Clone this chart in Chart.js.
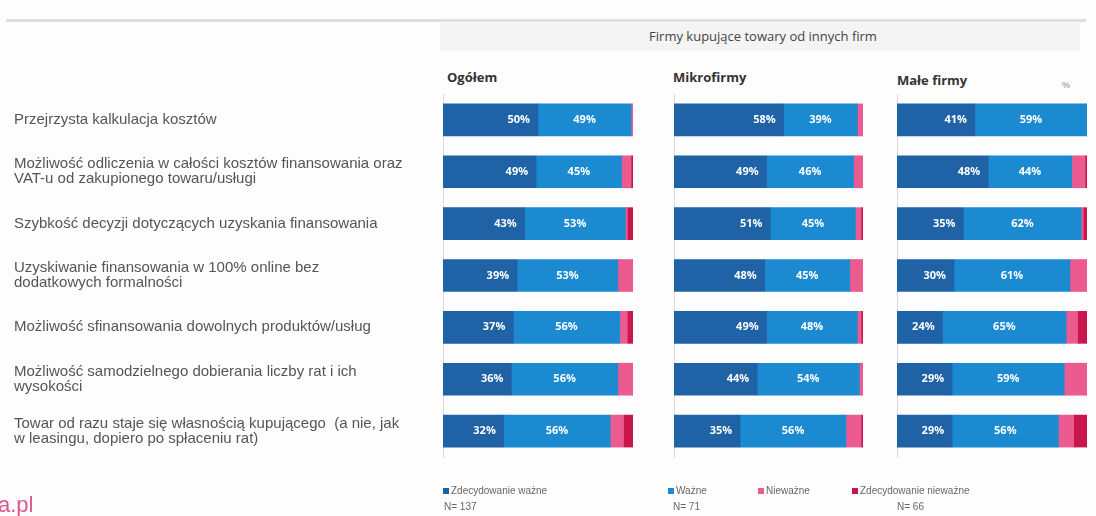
<!DOCTYPE html>
<html>
<head>
<meta charset="utf-8">
<script src="https://cdn.jsdelivr.net/npm/chart.js@4.4.0/dist/chart.umd.min.js"></script>
<style>
  html, body { margin:0; padding:0; background:#fdfdfd; }
  #wrap { position:relative; width:1096px; height:516px; overflow:hidden; font-family:"Liberation Sans", Arial, sans-serif; }
  canvas.c { position:absolute; left:0; top:0; }
  .t { position:absolute; white-space:nowrap; }
  .hdr { font-family:"Open Sans", sans-serif; font-size:13px; color:#444; }
  .ptitle { font-family:"Open Sans", sans-serif; font-weight:bold; font-size:13px; color:#333; }
  .leg { font-size:10px; color:#666; }
  .sw { display:inline-block; width:6px; height:6px; margin-right:2px; vertical-align:0px; }
  .n { font-size:10px; color:#666; }
</style>
</head>
<body>
<div id="wrap">
  <div style="position:absolute;left:6px;top:19px;width:1080px;height:3px;background:#dedede;"></div>
  <div style="position:absolute;left:440px;top:23px;width:640px;height:28px;background:#f4f4f4;"></div>
  <div class="t hdr" style="left:440px;width:646px;text-align:center;top:27px;">Firmy kupujące towary od innych firm</div>
  <div class="t ptitle" style="left:447px;top:68px;">Ogółem</div>
  <div class="t ptitle" style="left:673px;top:68px;">Mikrofirmy</div>
  <div class="t ptitle" style="left:897px;top:71px;">Małe firmy</div>
  <div class="t" style="left:1062px;top:80px;font-size:9px;color:#888;">%</div>

  <canvas class="c" id="c1" width="1096" height="516"></canvas>
  <canvas class="c" id="c2" width="1096" height="516"></canvas>
  <canvas class="c" id="c3" width="1096" height="516"></canvas>

  <div class="t leg" style="left:443px;top:485px;"><span class="sw" style="background:#1f62a6"></span>Zdecydowanie ważne</div>
  <div class="t leg" style="left:668px;top:485px;"><span class="sw" style="background:#1b8ad0"></span>Ważne</div>
  <div class="t leg" style="left:758px;top:485px;"><span class="sw" style="background:#ec5b8f"></span>Nieważne</div>
  <div class="t leg" style="left:852px;top:485px;"><span class="sw" style="background:#c9174b"></span>Zdecydowanie nieważne</div>

  <div class="t n" style="left:444px;top:501px;">N= 137</div>
  <div class="t n" style="left:673px;top:501px;">N= 71</div>
  <div class="t n" style="left:897px;top:501px;">N= 66</div>
  <div class="t" style="left:-2px;top:492px;font-size:22px;color:#e0568a;">a.pl</div>
</div>
<script>
const categories = [
  "Przejrzysta kalkulacja kosztów",
  ["Możliwość odliczenia w całości kosztów finansowania oraz", "VAT-u od zakupionego towaru/usługi"],
  "Szybkość decyzji dotyczących uzyskania finansowania",
  ["Uzyskiwanie finansowania w 100% online bez", "dodatkowych formalności"],
  "Możliwość sfinansowania dowolnych produktów/usług",
  ["Możliwość samodzielnego dobierania liczby rat i ich", "wysokości"],
  ["Towar od razu staje się własnością kupującego  (a nie, jak", "w leasingu, dopiero po spłaceniu rat)"]
];
const seriesNames = ["Zdecydowanie ważne", "Ważne", "Nieważne", "Zdecydowanie nieważne"];
const seriesColors = ["#1f62a6", "#1b8ad0", "#ec5b8f", "#c9174b"];

// Ogółem
const ogolemZdecWazne  = [50, 49, 43, 39, 37, 36, 32];
const ogolemWazne      = [49, 45, 53, 53, 56, 56, 56];
const ogolemNiewazne   = [1, 5, 1, 8, 4, 8, 7];
const ogolemZdecNiew   = [0, 1, 3, 0, 3, 0, 5];
// Mikrofirmy
const mikroZdecWazne   = [58, 49, 51, 48, 49, 44, 35];
const mikroWazne       = [39, 46, 45, 45, 48, 54, 56];
const mikroNiewazne    = [3, 5, 3, 7, 2, 2, 8];
const mikroZdecNiew    = [0, 0, 1, 0, 1, 0, 1];
// Małe firmy
const maleZdecWazne    = [41, 48, 35, 30, 24, 29, 29];
const maleWazne        = [59, 44, 62, 61, 65, 59, 56];
const maleNiewazne     = [0, 7, 1, 9, 6, 12, 8];
const maleZdecNiew     = [0, 1, 2, 0, 5, 0, 7];

const labelPlugin = {
  id: 'segLabels',
  afterDatasetsDraw(chart) {
    const ctx = chart.ctx;
    ctx.save();
    ctx.fillStyle = '#ffffff';
    ctx.font = 'bold 11px "Open Sans", sans-serif';
    ctx.textBaseline = 'middle';
    [0, 1].forEach(di => {
      const meta = chart.getDatasetMeta(di);
      const data = chart.data.datasets[di].data;
      meta.data.forEach((bar, i) => {
        const v = data[i];
        if (!v) return;
        const txt = v + '%';
        if (di === 0) {
          ctx.textAlign = 'right';
          ctx.fillText(txt, bar.x - 8, bar.y);
        } else {
          ctx.textAlign = 'center';
          ctx.fillText(txt, (bar.x + bar.base) / 2, bar.y);
        }
      });
    });
    ctx.restore();
  }
};

function makeChart(id, series, padLeft, axisWidth, padRight, showLabels) {
  new Chart(document.getElementById(id), {
    type: 'bar',
    data: {
      labels: categories,
      datasets: series.map((d, k) => ({
        label: seriesNames[k],
        data: d,
        backgroundColor: seriesColors[k],
        borderWidth: 0,
        barThickness: 32
      }))
    },
    options: {
      indexAxis: 'y',
      responsive: false,
      animation: false,
      events: [],
      layout: { padding: { left: padLeft, right: padRight, top: 94, bottom: 59 } },
      plugins: { legend: { display: false }, tooltip: { enabled: false } },
      scales: {
        x: { stacked: true, min: 0, max: 100, display: false },
        y: {
          stacked: true,
          grid: { display: false },
          border: { display: true, color: '#dcdcdc', width: 1 },
          ticks: {
            display: showLabels,
            crossAlign: 'far',
            padding: 0,
            color: '#555',
            font: { family: '"Liberation Sans", Arial, sans-serif', size: 15, lineHeight: 1.0 }
          },
          afterFit(scale) { scale.width = axisWidth; }
        }
      }
    },
    plugins: [labelPlugin]
  });
}

makeChart('c1', [ogolemZdecWazne, ogolemWazne, ogolemNiewazne, ogolemZdecNiew], 14, 443 - 14, 1096 - 633, true);
makeChart('c2', [mikroZdecWazne, mikroWazne, mikroNiewazne, mikroZdecNiew], 0, 674, 1096 - 863, false);
makeChart('c3', [maleZdecWazne, maleWazne, maleNiewazne, maleZdecNiew], 0, 897, 1096 - 1087, false);
</script>
</body>
</html>
